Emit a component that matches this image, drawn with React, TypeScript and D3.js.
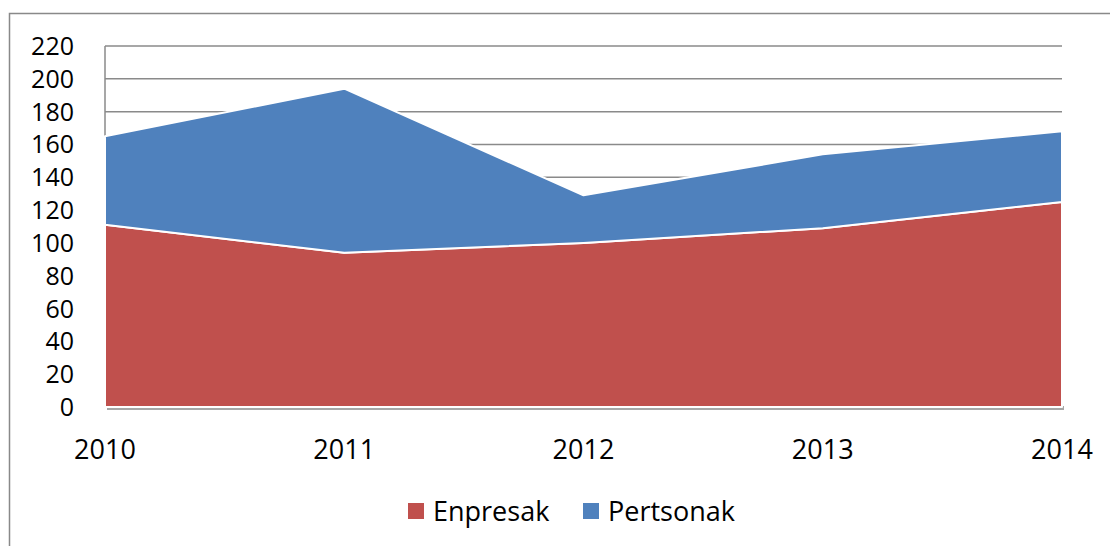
import React, { useEffect, useRef } from "react";
import * as d3 from "d3";

const years = ["2010", "2011", "2012", "2013", "2014"];
const enpresak = [111, 94, 100, 109, 125];
const pertsonak = [54, 100, 29, 45, 43];
const yTicks = [0, 20, 40, 60, 80, 100, 120, 140, 160, 180, 200, 220];
const seriesNames = ["Enpresak", "Pertsonak"];
const seriesColors = ["#C0504D", "#4F81BD"];

export default function App() {
  const ref = useRef<SVGSVGElement>(null);

  useEffect(() => {
    const width = 1110;
    const height = 546;
    const font = "'Open Sans', sans-serif";
    const margin = { top: 46, right: 48, bottom: 139, left: 105 };

    const svg = d3.select(ref.current);
    svg.selectAll("*").remove();
    svg.attr("viewBox", [0, 0, width, height]);

    // outer chart border (runs past the window on right and bottom)
    svg.append("rect")
       .attr("x", 9.5).attr("y", 13.5)
       .attr("width", 1120).attr("height", 560)
       .attr("fill", "white")
       .attr("stroke", "#898989")
       .attr("stroke-width", 1.5);

    const x = d3.scalePoint()
                .domain(years)
                .range([margin.left, width - margin.right]);

    const y = d3.scaleLinear()
                .domain([0, 220])
                .range([height - margin.bottom, margin.top]);

    const table = years.map((yr, i) => ({ year: yr, Enpresak: enpresak[i], Pertsonak: pertsonak[i] }));
    const stacked = d3.stack<any>().keys(seriesNames)(table);

    // gridlines
    svg.append("g")
       .selectAll("line")
       .data(yTicks.filter(t => t > 0))
       .join("line")
         .attr("x1", margin.left)
         .attr("x2", width - margin.right)
         .attr("y1", d => y(d))
         .attr("y2", d => y(d))
         .attr("stroke", "#8a8a8a")
         .attr("stroke-width", 1.5);

    // plot area left border
    svg.append("line")
       .attr("x1", margin.left).attr("x2", margin.left)
       .attr("y1", y(220)).attr("y2", y(0))
       .attr("stroke", "#8a8a8a")
       .attr("stroke-width", 1.5);

    const area = d3.area<any>()
                   .x(d => x(d.data.year)!)
                   .y0(d => y(d[0]))
                   .y1(d => y(d[1]));

    // shadow
    svg.append("path")
       .datum(stacked[0])
       .attr("d", area.y1(() => y(0) - 4) as any)
       .attr("transform", "translate(2,3)")
       .attr("fill", "#a6a6a6");
    area.y1(d => y(d[1]));

    svg.append("g")
       .selectAll("path")
       .data(stacked)
       .join("path")
         .attr("d", area as any)
         .attr("fill", (d, i) => seriesColors[i])
         .attr("stroke", "white")
         .attr("stroke-width", 2)
         .attr("stroke-linejoin", "round");

    // y labels
    svg.append("g")
       .selectAll("text")
       .data(yTicks)
       .join("text")
         .attr("x", 74)
         .attr("y", d => y(d) + 9)
         .attr("text-anchor", "end")
         .attr("font-family", font)
         .attr("font-size", 25)
         .attr("fill", "black")
         .text(d => d);

    // x labels
    svg.append("g")
       .selectAll("text")
       .data(years)
       .join("text")
         .attr("x", d => x(d)!)
         .attr("y", 459)
         .attr("text-anchor", "middle")
         .attr("font-family", font)
         .attr("font-size", 27)
         .attr("fill", "black")
         .text(d => d);

    // legend
    const legendX = [408, 583];
    const legend = svg.append("g")
                      .selectAll("g")
                      .data(seriesNames)
                      .join("g")
                        .attr("transform", (d, i) => `translate(${legendX[i]},503)`);
    legend.append("rect")
          .attr("width", 16).attr("height", 16)
          .attr("fill", (d, i) => seriesColors[i]);
    legend.append("text")
          .attr("x", 25)
          .attr("y", 18)
          .attr("font-family", font)
          .attr("font-size", 27)
          .attr("fill", "black")
          .text(d => d);
  });

  return (
    <svg
      ref={ref}
      width={1110}
      height={546}
      style={{ position: "absolute", left: 0, top: 0 }}
    />
  );
}
